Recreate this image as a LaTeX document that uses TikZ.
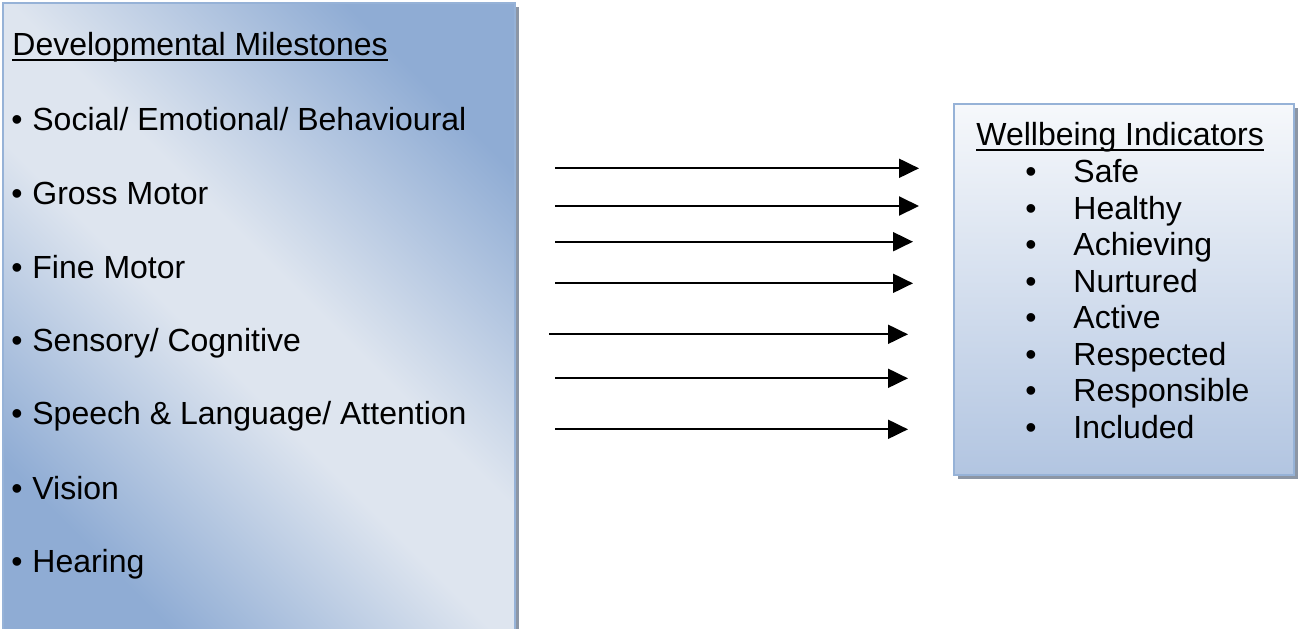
\documentclass[tikz,border=0pt]{standalone}
\usepackage{fontspec}
\setmainfont{Liberation Sans}
\usetikzlibrary{arrows.meta, shadows}
\definecolor{boxblue}{RGB}{143,172,212}
\definecolor{boxpale}{RGB}{222,229,239}
\definecolor{boxtop}{RGB}{246,248,251}
\definecolor{boxbottom}{RGB}{178,197,225}
\definecolor{boxedge}{RGB}{150,178,215}
\definecolor{boxshade}{RGB}{140,150,165}
\pgfdeclareverticalshading{milestoneshade}{100bp}{color(0bp)=(boxblue); color(25bp)=(boxblue);
  color(45bp)=(boxpale); color(54bp)=(boxpale); color(75bp)=(boxblue); color(100bp)=(boxblue)}
\tikzset{
  itemtext/.style={anchor=base west, inner sep=0pt, font=\fontsize{16}{19}\selectfont},
  listbox/.style={draw=boxedge, line width=1pt, inner sep=0pt,
    drop shadow={shadow xshift=2pt, shadow yshift=-2pt, fill=boxshade, opacity=1}}
}
\newcommand{\linkarrow}[2]{%
  \draw[-{Triangle[length=10pt, width=9.5pt]}, line width=1pt, black] (#1) -- (#2);
}
\newcommand{\titleline}[1]{%
  \draw[line width=1pt] ([yshift=-2.7pt]#1.base west) -- ([yshift=-2.7pt]#1.base east);
}

\begin{document}
\begin{tikzpicture}[x=0.5pt, y=-0.5pt]
            \useasboundingbox (0,0) rectangle (1300,628);

            \node[listbox, minimum width=256pt, minimum height=313.5pt,
                  shading=milestoneshade, shading angle=-45] (milestones) at (259,316.5) {};
            \node[listbox, minimum width=170pt, minimum height=185.5pt,
                  top color=boxtop, bottom color=boxbottom] (indicators) at (1124,289.5) {};

            \node[itemtext] (mtitle) at (12,55) {Developmental Milestones};
            \titleline{mtitle}
            \node[itemtext] (mb1) at (11,130) {•};
            \node[itemtext] (social) at (32,130) {Social/ Emotional/ Behavioural};
            \node[itemtext] (mb2) at (11,204) {•};
            \node[itemtext] (gross) at (32,204) {Gross Motor};
            \node[itemtext] (mb3) at (11,278) {•};
            \node[itemtext] (fine) at (32,278) {Fine Motor};
            \node[itemtext] (mb4) at (11,351) {•};
            \node[itemtext] (sensory) at (32,351) {Sensory/ Cognitive};
            \node[itemtext] (mb5) at (11,424) {•};
            \node[itemtext] (speech) at (32,424) {Speech \& Language/ Attention};
            \node[itemtext] (mb6) at (11,499) {•};
            \node[itemtext] (vision) at (32,499) {Vision};
            \node[itemtext] (mb7) at (11,572) {•};
            \node[itemtext] (hearing) at (32,572) {Hearing};

            \node[itemtext] (wtitle) at (976,145) {Wellbeing Indicators};
            \titleline{wtitle}
            \node[itemtext] (wb1) at (1025,182.7) {•};
            \node[itemtext] (safe) at (1073,182.7) {Safe};
            \node[itemtext] (wb2) at (1025,219.2) {•};
            \node[itemtext] (healthy) at (1073,219.2) {Healthy};
            \node[itemtext] (wb3) at (1025,255.7) {•};
            \node[itemtext] (achieving) at (1073,255.7) {Achieving};
            \node[itemtext] (wb4) at (1025,292.2) {•};
            \node[itemtext] (nurtured) at (1073,292.2) {Nurtured};
            \node[itemtext] (wb5) at (1025,328.7) {•};
            \node[itemtext] (active) at (1073,328.7) {Active};
            \node[itemtext] (wb6) at (1025,365.2) {•};
            \node[itemtext] (respected) at (1073,365.2) {Respected};
            \node[itemtext] (wb7) at (1025,401.7) {•};
            \node[itemtext] (responsible) at (1073,401.7) {Responsible};
            \node[itemtext] (wb8) at (1025,438.2) {•};
            \node[itemtext] (included) at (1073,438.2) {Included};

            \coordinate (A1) at (555,168.3);
            \coordinate (B1) at (919,168.3);
            \coordinate (A2) at (555,206);
            \coordinate (B2) at (919,206);
            \coordinate (A3) at (555,241.7);
            \coordinate (B3) at (913,241.7);
            \coordinate (A4) at (555,283.3);
            \coordinate (B4) at (913,283.3);
            \coordinate (A5) at (549,334.3);
            \coordinate (B5) at (908,334.3);
            \coordinate (A6) at (555,378.3);
            \coordinate (B6) at (908,378.3);
            \coordinate (A7) at (555,429.3);
            \coordinate (B7) at (908,429.3);

            \linkarrow{A1}{B1}
            \linkarrow{A2}{B2}
            \linkarrow{A3}{B3}
            \linkarrow{A4}{B4}
            \linkarrow{A5}{B5}
            \linkarrow{A6}{B6}
            \linkarrow{A7}{B7}
        \end{tikzpicture}
\end{document}
